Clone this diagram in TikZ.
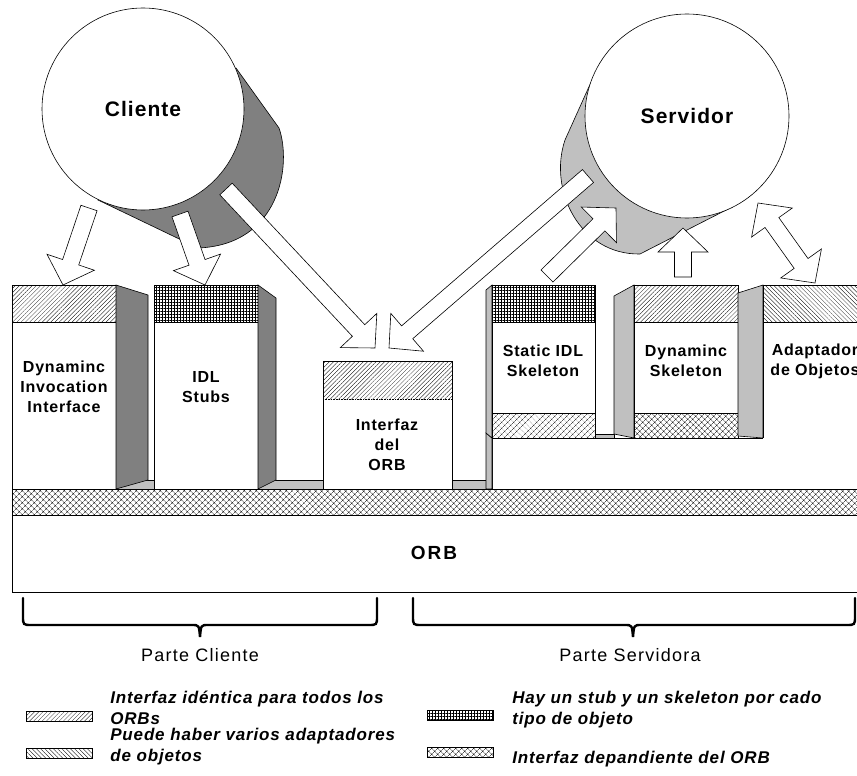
\documentclass[tikz,border=0pt]{standalone}
\usepackage{fontspec}
\setmainfont{Liberation Sans}
\newfontfamily\blockfont{Liberation Sans}[LetterSpace=5]
\newfontfamily\partfont{Liberation Sans}[LetterSpace=7]
\newfontfamily\orbfont{Liberation Sans}[LetterSpace=10]
\usetikzlibrary{calc,patterns.meta}

\definecolor{darkface}{HTML}{808080}
\definecolor{lightface}{HTML}{C0C0C0}

\tikzset{
  front/.style={draw,fill=white},
  darkside/.style={draw,fill=darkface},
  lightside/.style={draw,fill=lightface},
  sameif/.style={pattern={Lines[angle=45,distance=3pt,line width=0.3pt]}},
  adaptif/.style={pattern={Lines[angle=-45,distance=3pt,line width=0.3pt]}},
  stubif/.style={pattern={Hatch[angle=0,distance=3pt,line width=0.3pt]}},
  orbdep/.style={pattern={Hatch[angle=45,distance=4pt,line width=0.3pt]}},
  arrowbody/.style={draw,fill=white,line join=miter},
  bubble/.style={circle,draw,fill=white,inner sep=0pt,font=\blockfont\bfseries\fontsize{21}{24}\selectfont},
  blocktext/.style={align=center,font=\blockfont\bfseries\fontsize{16}{20}\selectfont},
  legtext/.style={align=left,anchor=north west,inner sep=0pt,font=\blockfont\bfseries\itshape\fontsize{17}{21}\selectfont},
  parttext/.style={font=\partfont\fontsize{18}{22}\selectfont},
  bracepath/.style={line width=2.4pt,line cap=round},
}

% hollow arrow: tail, tip
\newcommand{\bigarrow}[2]{%
  \coordinate (hb) at ($(#2)!24pt!(#1)$);
  \draw[arrowbody] ($(#1)!8.5pt!90:(#2)$) -- ($(hb)!8.5pt!90:(#2)$) -- ($(hb)!25pt!90:(#2)$) -- (#2)
    -- ($(hb)!25pt!-90:(#2)$) -- ($(hb)!8.5pt!-90:(#2)$) -- ($(#1)!8.5pt!-90:(#2)$) -- cycle;}
% hollow double arrow
\newcommand{\bigdarrow}[2]{%
  \coordinate (ha) at ($(#1)!24pt!(#2)$);
  \coordinate (hb) at ($(#2)!24pt!(#1)$);
  \draw[arrowbody] (#1) -- ($(ha)!25pt!90:(#2)$) -- ($(ha)!8.5pt!90:(#2)$) -- ($(hb)!8.5pt!-90:(#1)$)
    -- ($(hb)!25pt!-90:(#1)$) -- (#2) -- ($(hb)!25pt!90:(#1)$) -- ($(hb)!8.5pt!90:(#1)$)
    -- ($(ha)!8.5pt!-90:(#2)$) -- ($(ha)!25pt!-90:(#2)$) -- cycle;}

\begin{document}
\begin{tikzpicture}[x=1pt,y=-1pt,line width=0.6pt]
\useasboundingbox (0,0) rectangle (857,776);
\fill[white] (0,0) rectangle (857,776);
\clip (0,0) rectangle (857,776);

% cliente
\draw[fill=darkface] (236,68) -- (279,128) .. controls (292,165) and (280,245) .. (198,248) -- (98,200) -- cycle;
\node[bubble,minimum size=202pt] (cliente) at (143,109) {Cliente};

% servidor
\draw[fill=lightface] (592,80) -- (565,140) .. controls (548,190) and (580,255) .. (640,254) -- (732,207) -- cycle;
\node[bubble,minimum size=204pt] (servidor) at (687,116) {Servidor};

% parte cliente
\draw[lightside] (12,480) rectangle (492,489);

\fill[white] (12,285) rectangle (116,489);
\path[sameif] (12,285) rectangle (116,322);
\draw (12,322) -- (116,322);
\draw (12,285) rectangle (116,489);
\draw[darkside] (116,285) -- (148,295) -- (148,480) -- (116,489) -- cycle;

\fill[white] (154,285) rectangle (258,489);
\path[stubif] (154,285) rectangle (258,322);
\draw (154,322) -- (258,322);
\draw (154,285) rectangle (258,489);
\draw[darkside] (258,285) -- (276,298) -- (276,480) -- (258,489) -- cycle;

\fill[white] (323,361) rectangle (452,489);
\path[sameif] (323,361) rectangle (452,399);
\draw[densely dotted] (323,399) -- (452,399);
\draw (323,361) rectangle (452,489);

% parte servidora
\fill[white] (492,438) rectangle (870,489);
\draw (492,489) -- (492,438) -- (767,438);
\draw[lightside] (486,433) -- (492,438) -- (492,489) -- (486,489) -- cycle;
\draw[lightside] (486,290) -- (492,285) -- (492,438) -- (486,433) -- cycle;

\fill[white] (492,285) rectangle (595,438);
\path[stubif] (492,285) rectangle (595,322);
\path[orbdep] (492,413) rectangle (595,438);
\draw (492,322) -- (595,322) (492,413) -- (595,413);
\draw (492,285) rectangle (595,438);
\draw[lightside] (595,434) rectangle (614,438);

\draw[lightside] (614,296) -- (634,285) -- (634,438) -- (614,434) -- cycle;
\fill[white] (634,285) rectangle (738,438);
\path[sameif] (634,285) rectangle (738,322);
\path[orbdep] (634,413) rectangle (738,438);
\draw (634,322) -- (738,322) (634,413) -- (738,413);
\draw (634,285) rectangle (738,438);

\draw[lightside] (738,293) -- (763,285) -- (763,438) -- (738,436) -- cycle;
\fill[white] (763,285) rectangle (870,489);
\path[adaptif] (763,285) rectangle (870,322);
\draw (763,322) -- (870,322);
\draw (763,438) -- (763,285) -- (870,285);

% ORB
\path[orbdep] (12,489) rectangle (870,515);
\draw (12,489) rectangle (870,515);
\draw[front] (12,515) rectangle (870,592);
\node[font=\orbfont\bfseries\fontsize{19}{22}\selectfont] (orb) at (434,553) {ORB};

% textos
\node[blocktext] (dii) at (64,387) {Dynaminc\\Invocation\\Interface};
\node[blocktext] (stubs) at (206,387) {IDL\\Stubs};
\node[blocktext] (ifaz) at (387,445) {Interfaz\\del\\ORB};
\node[blocktext] (sskel) at (543,361) {Static IDL\\Skeleton};
\node[blocktext] (dskel) at (686,361) {Dynaminc\\Skeleton};
\node[blocktext] (adapt) at (815,361) {Adaptador\\de Objetos};

% flechas
\coordinate (c1) at (89,208);   \coordinate (dii top) at (63,285);
\coordinate (c2) at (180,214);  \coordinate (stubs top) at (205,285);
\coordinate (c3) at (226,189);  \coordinate (ifaz l) at (375,348);
\coordinate (s4) at (588,176);  \coordinate (ifaz r) at (389,348);
\coordinate (sskel top) at (547,276); \coordinate (s5) at (616,208);
\coordinate (dskel top) at (683,277); \coordinate (s6) at (683,228);
\coordinate (s7) at (758,203);  \coordinate (adapt top) at (815,283);
\bigarrow{c1}{dii top}
\bigarrow{c2}{stubs top}
\bigarrow{c3}{ifaz l}
\bigarrow{s4}{ifaz r}
\bigarrow{sskel top}{s5}
\bigarrow{dskel top}{s6}
\bigdarrow{s7}{adapt top}

% llaves
\draw[bracepath] (23,598) -- (23,616) .. controls (23,625) .. (32,625) -- (192,625)
  .. controls (199,625) .. (200,637) .. controls (201,625) .. (208,625) -- (368,625)
  .. controls (377,625) .. (377,616) -- (377,598);
\draw[bracepath] (413,598) -- (413,616) .. controls (413,625) .. (422,625) -- (625,625)
  .. controls (632,625) .. (633,637) .. controls (634,625) .. (641,625) -- (846,625)
  .. controls (855,625) .. (855,616) -- (855,598);
\node[parttext] (pcli) at (200,655) {Parte Cliente};
\node[parttext] (pser) at (630,655) {Parte Servidora};

% leyenda
\draw[sameif] (26,711) rectangle (92,721);
\node[legtext] (l1) at (110,691) {Interfaz idéntica para todos los\\ORBs};
\draw[adaptif] (26,748) rectangle (92,758);
\node[legtext] (l2) at (110,728) {Puede haber varios adaptadores\\de objetos};
\draw[stubif] (427,710) rectangle (493,720);
\node[legtext] (l3) at (512,691) {Hay un stub y un skeleton por cado\\tipo de objeto};
\draw[orbdep] (427,747) rectangle (493,757);
\node[legtext] (l4) at (512,751) {Interfaz depandiente del ORB};
\end{tikzpicture}
\end{document}
